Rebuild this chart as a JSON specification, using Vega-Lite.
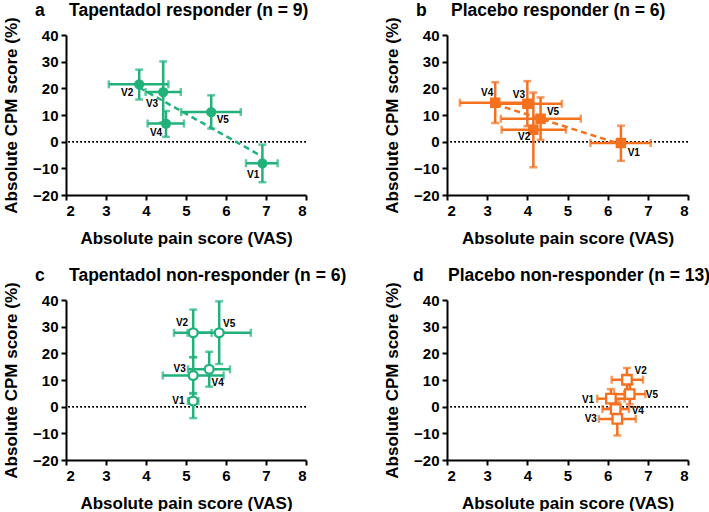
{
  "$schema": "https://vega.github.io/schema/vega-lite/v6.json",
  "padding": {"left": 2, "top": 2, "right": 0, "bottom": 0},
  "datasets": {
    "pts": [
      {"panel": "a", "visit": "V1", "x": 6.91, "y": -8.1, "xlo": 6.5, "xhi": 7.29, "ylo": -15.2, "yhi": -1.1, "lx": 6.68, "ly": -12.4},
      {"panel": "a", "visit": "V2", "x": 3.83, "y": 21.5, "xlo": 3.07, "xhi": 4.56, "ylo": 15.8, "yhi": 27.0, "lx": 3.53, "ly": 18.3},
      {"panel": "a", "visit": "V3", "x": 4.43, "y": 18.6, "xlo": 3.99, "xhi": 4.87, "ylo": 7.2, "yhi": 30.1, "lx": 4.15, "ly": 14.3},
      {"panel": "a", "visit": "V4", "x": 4.5, "y": 6.8, "xlo": 4.04, "xhi": 4.95, "ylo": 1.8, "yhi": 11.5, "lx": 4.25, "ly": 3.3},
      {"panel": "a", "visit": "V5", "x": 5.63, "y": 11.1, "xlo": 4.88, "xhi": 6.37, "ylo": 4.9, "yhi": 17.4, "lx": 5.92, "ly": 8.3},
      {"panel": "b", "visit": "V1", "x": 6.33, "y": -0.5, "xlo": 5.57, "xhi": 7.07, "ylo": -7.2, "yhi": 6.0, "lx": 6.65, "ly": -4.1},
      {"panel": "b", "visit": "V2", "x": 4.15, "y": 4.5, "xlo": 3.36, "xhi": 4.96, "ylo": -9.6, "yhi": 18.4, "lx": 3.92, "ly": 1.9},
      {"panel": "b", "visit": "V3", "x": 4.0, "y": 14.2, "xlo": 3.16, "xhi": 4.86, "ylo": 5.8, "yhi": 22.7, "lx": 3.79, "ly": 17.6},
      {"panel": "b", "visit": "V4", "x": 3.2, "y": 14.6, "xlo": 2.32, "xhi": 4.05, "ylo": 7.0, "yhi": 22.3, "lx": 3.0, "ly": 18.1},
      {"panel": "b", "visit": "V5", "x": 4.33, "y": 8.6, "xlo": 3.34, "xhi": 5.33, "ylo": 0.7, "yhi": 16.6, "lx": 4.64, "ly": 11.1},
      {"panel": "c", "visit": "V1", "x": 5.18, "y": 2.1, "xlo": 5.05, "xhi": 5.31, "ylo": -4.3, "yhi": 5.1, "lx": 4.81, "ly": 2.1},
      {"panel": "c", "visit": "V2", "x": 5.18, "y": 27.7, "xlo": 4.7, "xhi": 5.64, "ylo": 18.6, "yhi": 36.4, "lx": 4.9, "ly": 31.3},
      {"panel": "c", "visit": "V3", "x": 5.18, "y": 11.7, "xlo": 4.42, "xhi": 5.94, "ylo": 4.9, "yhi": 18.5, "lx": 4.84, "ly": 14.0},
      {"panel": "c", "visit": "V4", "x": 5.58, "y": 14.0, "xlo": 5.05, "xhi": 6.1, "ylo": 7.5, "yhi": 20.6, "lx": 5.79, "ly": 9.0},
      {"panel": "c", "visit": "V5", "x": 5.83, "y": 27.7, "xlo": 5.04, "xhi": 6.62, "ylo": 16.0, "yhi": 39.5, "lx": 6.08, "ly": 31.0},
      {"panel": "d", "visit": "V1", "x": 6.08, "y": 3.0, "xlo": 5.74, "xhi": 6.42, "ylo": -0.6, "yhi": 6.6, "lx": 5.51, "ly": 2.6},
      {"panel": "d", "visit": "V2", "x": 6.48, "y": 10.1, "xlo": 6.1, "xhi": 6.88, "ylo": 5.7, "yhi": 14.5, "lx": 6.82, "ly": 13.2},
      {"panel": "d", "visit": "V3", "x": 6.24, "y": -4.6, "xlo": 5.78, "xhi": 6.7, "ylo": -10.8, "yhi": 1.6, "lx": 5.58, "ly": -4.6},
      {"panel": "d", "visit": "V4", "x": 6.2, "y": -0.9, "xlo": 5.87, "xhi": 6.53, "ylo": -4.3, "yhi": 2.5, "lx": 6.75, "ly": -1.6},
      {"panel": "d", "visit": "V5", "x": 6.55, "y": 4.7, "xlo": 6.16, "xhi": 6.94, "ylo": 0.9, "yhi": 8.5, "lx": 7.1, "ly": 4.3}
    ],
    "fit": [
      {"panel": "a", "x": 3.83, "y": 20.3},
      {"panel": "a", "x": 6.91, "y": -5.6},
      {"panel": "b", "x": 3.2, "y": 14.0},
      {"panel": "b", "x": 6.33, "y": -1.0}
    ]
  },
  "config": {
    "font": "Liberation Sans",
    "view": {"stroke": null},
    "scale": {"continuousPadding": 0},
    "axis": {
      "grid": false,
      "domainColor": "black", "domainWidth": 2,
      "tickColor": "black", "tickWidth": 2, "tickSize": 5,
      "labelFont": "Liberation Sans", "labelFontWeight": "bold", "labelFontSize": 15, "labelColor": "black", "labelPadding": 3,
      "titleFont": "Liberation Sans", "titleFontWeight": "bold", "titleFontSize": 17, "titleColor": "black"
    },
    "axisX": {"titlePadding": 12},
    "axisY": {"titlePadding": 12},
    "title": {"font": "Liberation Sans", "fontSize": 17.5, "fontWeight": "bold", "color": "black", "anchor": "start", "frame": "group", "offset": -3, "dx": -31},
    "text": {"font": "Liberation Sans", "fontWeight": "bold", "fontSize": 10, "color": "black"}
  },
  "columns": 2,
  "bounds": "flush",
  "align": "none",
  "spacing": {"column": 141, "row": 105},
  "concat": [
    {
      "width": 240, "height": 160,
      "title": {"text": "a\u00a0\u00a0\u00a0\u00a0\u00a0Tapentadol responder (n = 9)"},
      "data": {"name": "pts"},
      "transform": [{"filter": "datum.panel === 'a'"}],
      "encoding": {
        "x": {"field": "x", "type": "quantitative", "scale": {"domain": [2, 8], "nice": false, "zero": false, "padding": 0}, "axis": {"values": [2, 3, 4, 5, 6, 7, 8], "title": "Absolute pain score (VAS)"}},
        "y": {"field": "y", "type": "quantitative", "scale": {"domain": [-20, 40], "nice": false, "padding": 0}, "axis": {"values": [-20, -10, 0, 10, 20, 30, 40], "title": "Absolute CPM score (%)"}}
      },
      "layer": [
        {"mark": {"type": "rule", "color": "black", "strokeWidth": 1.3, "strokeDash": [1.5, 2.5]}, "encoding": {"x": null, "y": {"datum": 0, "type": "quantitative"}}},
        {"mark": {"type": "errorbar", "ticks": true, "color": "#20b27a", "thickness": 2.5, "size": 8}, "encoding": {"y": {"field": "ylo", "type": "quantitative"}, "y2": {"field": "yhi"}}},
        {"mark": {"type": "errorbar", "ticks": true, "color": "#20b27a", "thickness": 2.5, "size": 8}, "encoding": {"x": {"field": "xlo", "type": "quantitative"}, "x2": {"field": "xhi"}}},
        {"data": {"name": "fit"}, "transform": [{"filter": "datum.panel === 'a'"}], "mark": {"type": "line", "color": "#20b27a", "strokeWidth": 2.5, "strokeDash": [6, 4]}, "encoding": {}},
        {"mark": {"type": "point", "shape": "circle", "filled": true, "color": "#20b27a", "size": 105, "opacity": 1}},
        {"mark": {"type": "text"}, "encoding": {"x": {"field": "lx", "type": "quantitative"}, "y": {"field": "ly", "type": "quantitative"}, "text": {"field": "visit"}}}
      ]
    },
    {
      "width": 241, "height": 160,
      "title": {"text": "b\u00a0\u00a0\u00a0\u00a0\u00a0Placebo responder (n = 6)"},
      "data": {"name": "pts"},
      "transform": [{"filter": "datum.panel === 'b'"}],
      "encoding": {
        "x": {"field": "x", "type": "quantitative", "scale": {"domain": [2, 8], "nice": false, "zero": false, "padding": 0}, "axis": {"values": [2, 3, 4, 5, 6, 7, 8], "title": "Absolute pain score (VAS)"}},
        "y": {"field": "y", "type": "quantitative", "scale": {"domain": [-20, 40], "nice": false, "padding": 0}, "axis": {"values": [-20, -10, 0, 10, 20, 30, 40], "title": "Absolute CPM score (%)"}}
      },
      "layer": [
        {"mark": {"type": "rule", "color": "black", "strokeWidth": 1.3, "strokeDash": [1.5, 2.5]}, "encoding": {"x": null, "y": {"datum": 0, "type": "quantitative"}}},
        {"mark": {"type": "errorbar", "ticks": true, "color": "#f5701f", "thickness": 2.5, "size": 8}, "encoding": {"y": {"field": "ylo", "type": "quantitative"}, "y2": {"field": "yhi"}}},
        {"mark": {"type": "errorbar", "ticks": true, "color": "#f5701f", "thickness": 2.5, "size": 8}, "encoding": {"x": {"field": "xlo", "type": "quantitative"}, "x2": {"field": "xhi"}}},
        {"data": {"name": "fit"}, "transform": [{"filter": "datum.panel === 'b'"}], "mark": {"type": "line", "color": "#f5701f", "strokeWidth": 2.5, "strokeDash": [6, 4]}, "encoding": {}},
        {"mark": {"type": "point", "shape": "square", "filled": true, "color": "#f5701f", "size": 110, "opacity": 1}},
        {"mark": {"type": "text"}, "encoding": {"x": {"field": "lx", "type": "quantitative"}, "y": {"field": "ly", "type": "quantitative"}, "text": {"field": "visit"}}}
      ]
    },
    {
      "width": 240, "height": 160,
      "title": {"text": "c\u00a0\u00a0\u00a0\u00a0\u00a0Tapentadol non-responder (n = 6)"},
      "data": {"name": "pts"},
      "transform": [{"filter": "datum.panel === 'c'"}],
      "encoding": {
        "x": {"field": "x", "type": "quantitative", "scale": {"domain": [2, 8], "nice": false, "zero": false, "padding": 0}, "axis": {"values": [2, 3, 4, 5, 6, 7, 8], "title": "Absolute pain score (VAS)"}},
        "y": {"field": "y", "type": "quantitative", "scale": {"domain": [-20, 40], "nice": false, "padding": 0}, "axis": {"values": [-20, -10, 0, 10, 20, 30, 40], "title": "Absolute CPM score (%)"}}
      },
      "layer": [
        {"mark": {"type": "rule", "color": "black", "strokeWidth": 1.3, "strokeDash": [1.5, 2.5]}, "encoding": {"x": null, "y": {"datum": 0, "type": "quantitative"}}},
        {"mark": {"type": "errorbar", "ticks": true, "color": "#20b27a", "thickness": 2.5, "size": 8}, "encoding": {"y": {"field": "ylo", "type": "quantitative"}, "y2": {"field": "yhi"}}},
        {"mark": {"type": "errorbar", "ticks": true, "color": "#20b27a", "thickness": 2.5, "size": 8}, "encoding": {"x": {"field": "xlo", "type": "quantitative"}, "x2": {"field": "xhi"}}},
        {"mark": {"type": "point", "shape": "circle", "filled": true, "fill": "white", "stroke": "#20b27a", "strokeWidth": 2.3, "size": 80, "opacity": 1}},
        {"mark": {"type": "text"}, "encoding": {"x": {"field": "lx", "type": "quantitative"}, "y": {"field": "ly", "type": "quantitative"}, "text": {"field": "visit"}}}
      ]
    },
    {
      "width": 241, "height": 160,
      "title": {"text": "d\u00a0\u00a0\u00a0\u00a0\u00a0Placebo non-responder (n = 13)", "dx": -34},
      "data": {"name": "pts"},
      "transform": [{"filter": "datum.panel === 'd'"}],
      "encoding": {
        "x": {"field": "x", "type": "quantitative", "scale": {"domain": [2, 8], "nice": false, "zero": false, "padding": 0}, "axis": {"values": [2, 3, 4, 5, 6, 7, 8], "title": "Absolute pain score (VAS)"}},
        "y": {"field": "y", "type": "quantitative", "scale": {"domain": [-20, 40], "nice": false, "padding": 0}, "axis": {"values": [-20, -10, 0, 10, 20, 30, 40], "title": "Absolute CPM score (%)"}}
      },
      "layer": [
        {"mark": {"type": "rule", "color": "black", "strokeWidth": 1.3, "strokeDash": [1.5, 2.5]}, "encoding": {"x": null, "y": {"datum": 0, "type": "quantitative"}}},
        {"mark": {"type": "errorbar", "ticks": true, "color": "#f5701f", "thickness": 2.5, "size": 8}, "encoding": {"y": {"field": "ylo", "type": "quantitative"}, "y2": {"field": "yhi"}}},
        {"mark": {"type": "errorbar", "ticks": true, "color": "#f5701f", "thickness": 2.5, "size": 8}, "encoding": {"x": {"field": "xlo", "type": "quantitative"}, "x2": {"field": "xhi"}}},
        {"mark": {"type": "point", "shape": "square", "filled": true, "fill": "white", "stroke": "#f5701f", "strokeWidth": 2.3, "size": 90, "opacity": 1}},
        {"mark": {"type": "text"}, "encoding": {"x": {"field": "lx", "type": "quantitative"}, "y": {"field": "ly", "type": "quantitative"}, "text": {"field": "visit"}}}
      ]
    }
  ]
}
